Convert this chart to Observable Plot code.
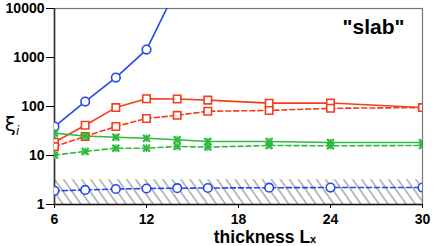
<!DOCTYPE html>
<html>
<head>
<meta charset="utf-8">
<script src="https://cdn.jsdelivr.net/npm/d3@7"></script>
<script src="https://cdn.jsdelivr.net/npm/@observablehq/plot@0.6"></script>
<style>
  body { margin: 0; background: #fff; }
  #chart svg { display: block; }
</style>
</head>
<body>
<div id="chart"></div>
<script>
const thickness = [6, 8, 10, 12, 14, 16, 20, 24, 30];
const blueSolid = [39, 126, 390, 1450, 27000];
const blueDashed = [1.9, 1.98, 2.07, 2.12, 2.15, 2.17, 2.2, 2.22, 2.22];
const redSolid = [18.7, 41.5, 95, 144, 142, 135, 117, 118, 95];
const redDashed = [15.2, 24.5, 39, 57, 66, 80, 83, 92, 95];
const greenSolid = [28.5, 25, 23.6, 22.5, 21, 19.3, 19.3, 18.4, 18.4];
const greenDashed = [10.2, 12.1, 14.1, 14.1, 15.3, 14.8, 16, 15.8, 16];
const xTicks = [6, 12, 18, 24, 30];
const yTicks = [1, 10, 100, 1000, 10000];
const hatchBand = [{x1: 6, x2: 30, y1: 1, y2: 3.2}];
const title = "\"slab\"";

const blue = "#2447f2", red = "#f53d1c", green = "#2cba3c";

const series = [
  {name: "blueSolid", values: blueSolid, color: blue, dashed: false, symbol: "circle"},
  {name: "blueDashed", values: blueDashed, color: blue, dashed: true, symbol: "circle"},
  {name: "redSolid", values: redSolid, color: red, dashed: false, symbol: "square"},
  {name: "redDashed", values: redDashed, color: red, dashed: true, symbol: "square"},
  {name: "greenSolid", values: greenSolid, color: green, dashed: false, symbol: "times"},
  {name: "greenDashed", values: greenDashed, color: green, dashed: true, symbol: "times"}
];

const marks = [
  Plot.rect(hatchBand, {x1: "x1", x2: "x2", y1: "y1", y2: "y2", fill: "url(#hatch)"}),
  Plot.frame({stroke: "#777", strokeWidth: 1.2}),
  Plot.ruleX([6], {stroke: "#333", strokeWidth: 1.6}),
  Plot.ruleY([1], {stroke: "#111", strokeWidth: 1.4}),
  Plot.axisX({ticks: xTicks, tickSize: 4, tickPadding: 6, fontSize: 14, fontWeight: "bold", label: null}),
  Plot.axisY({ticks: yTicks, tickSize: 8, tickPadding: 2, fontSize: 14, fontWeight: "bold", label: null, tickFormat: d => String(d)})
];

for (const s of series) {
  const data = s.values.map((v, i) => ({x: thickness[i], y: v}));
  marks.push(Plot.line(data, {x: "x", y: "y", stroke: s.color, strokeWidth: 1.6,
    strokeDasharray: s.dashed ? "5,3" : null, clip: true}));
  if (s.symbol === "times") {
    marks.push(Plot.dot(data, {x: "x", y: "y", symbol: "times", r: 3.2, stroke: s.color, strokeWidth: 2.2, clip: true}));
    marks.push(Plot.dot(data, {x: "x", y: "y", symbol: "plus", r: 2.6, stroke: s.color, strokeWidth: 1.2, clip: true}));
  } else {
    marks.push(Plot.dot(data, {x: "x", y: "y", symbol: s.symbol, r: s.symbol === "square" ? 4.2 : 4.3,
      fill: "white", stroke: s.color, strokeWidth: 1.6, clip: true}));
  }
}

marks.push(Plot.text([title], {frameAnchor: "top-right", dx: -18, dy: 11, fontSize: 21, fontWeight: "bold", fill: "#000", textAnchor: "end"}));

const plot = Plot.plot({
  width: 436,
  height: 246,
  marginLeft: 54,
  marginRight: 14,
  marginTop: 8,
  marginBottom: 42,
  style: {fontFamily: "'Liberation Sans', Arial, sans-serif", color: "#000", background: "white"},
  x: {domain: [6, 30]},
  y: {type: "log", domain: [1, 10000]},
  marks
});

const svg = d3.select(plot);
const defs = svg.insert("defs", ":first-child");
const pat = defs.append("pattern").attr("id", "hatch").attr("patternUnits", "userSpaceOnUse")
  .attr("width", 7.4).attr("height", 20).attr("patternTransform", "rotate(-35)");
pat.append("line").attr("x1", 1).attr("x2", 1).attr("y1", 0).attr("y2", 20)
  .attr("stroke", "#666").attr("stroke-width", 0.9);

svg.selectAll("text").style("font-weight", "bold");

const yl = svg.append("text").attr("x", 12).attr("y", 131).attr("font-size", 20)
  .attr("font-family", "'DejaVu Sans', sans-serif").attr("fill", "#000");
yl.append("tspan").text("ξ");
yl.append("tspan").attr("font-size", 12).attr("dy", 4).attr("font-style", "italic").text("i");

const xl = svg.append("text").attr("x", 265).attr("y", 243).attr("text-anchor", "middle")
  .attr("font-size", 17.5).attr("font-weight", "bold")
  .attr("font-family", "'Liberation Sans', Arial, sans-serif").attr("fill", "#000");
xl.append("tspan").text("thickness L");
xl.append("tspan").attr("font-size", 11).text("x");

document.getElementById("chart").appendChild(plot);
</script>
</body>
</html>
